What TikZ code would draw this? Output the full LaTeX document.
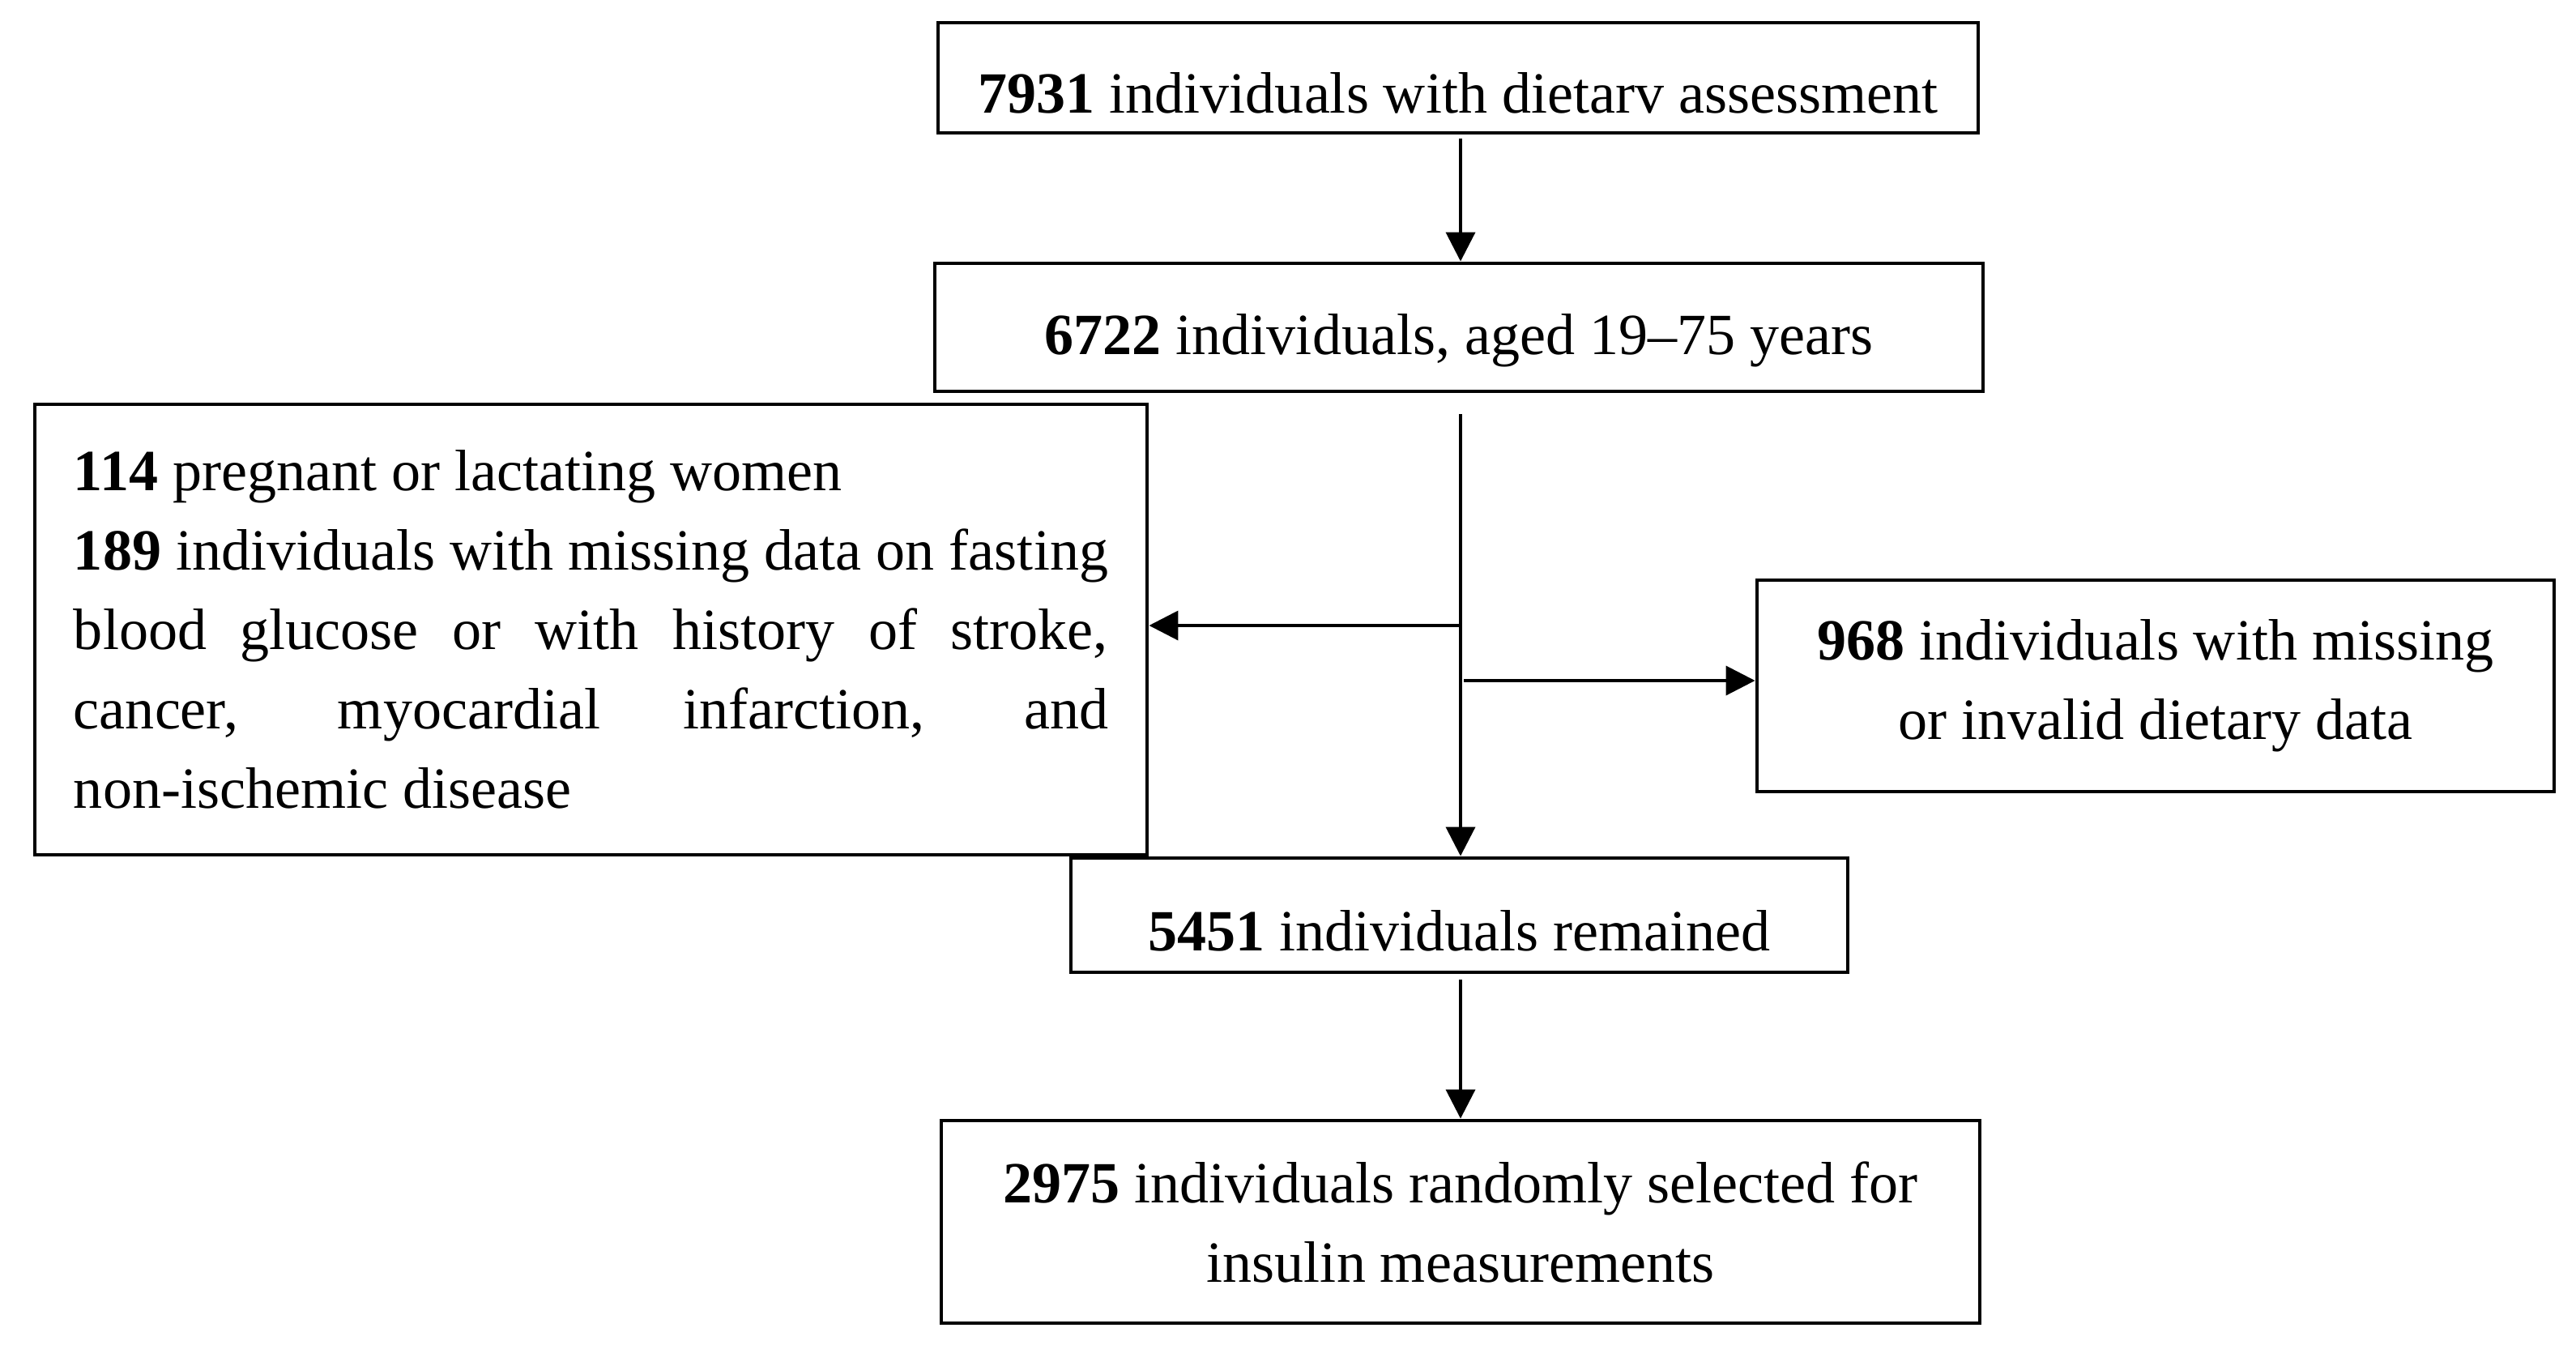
\documentclass[tikz,border=0pt]{standalone}
\usepackage{fontspec}
\setmainfont{Liberation Serif}
\usetikzlibrary{arrows.meta}
\begin{document}
\begin{tikzpicture}[
  font=\fontsize{20.5pt}{27.9pt}\selectfont,
  box/.style={draw=black, line width=1.4pt, rectangle, inner sep=0pt, align=center},
  arr/.style={draw=black, line width=1.1pt, -{Triangle[length=0.36cm,width=0.36cm]}}
]
\path[use as bounding box, fill=white] (0,0) rectangle (31.8,-16.59);

\node[box, minimum width=12.84cm, minimum height=1.36cm, text height=0.86cm, text depth=0pt] (b1) at (18.00,-0.96)
  {\textbf{7931} individuals with dietarv assessment};
\node[box, minimum width=12.94cm, minimum height=1.58cm, text height=0.66cm, text depth=0pt] (b2) at (18.01,-4.04)
  {\textbf{6722} individuals, aged 19–75 years};
\node[box, text width=12.77cm, inner xsep=0.48cm, minimum height=5.56cm, align=justify] (left) at (7.295,-7.77)
  {\textbf{114} pregnant or lactating women\\
   \textbf{189} individuals with missing data on fasting\linebreak
   blood glucose or with history of stroke,\linebreak
   cancer, myocardial infarction, and\linebreak
   non-ischemic disease};
\node[box, minimum width=9.84cm, minimum height=2.61cm] (right) at (26.61,-8.465)
  {\textbf{968} individuals with missing\\or invalid dietary data};
\node[box, minimum width=9.59cm, minimum height=1.41cm, text height=0.87cm, text depth=0pt] (b5) at (18.015,-11.295)
  {\textbf{5451} individuals remained};
\node[box, minimum width=12.82cm, minimum height=2.50cm] (b6) at (18.03,-15.08)
  {\textbf{2975} individuals randomly selected for\\insulin measurements};

\coordinate (a1) at (18.03,-1.71);
\coordinate (t1) at (18.03,-5.11);
\coordinate (jl) at (18.03,-7.72);
\coordinate (jr) at (18.07,-8.40);
\coordinate (a4) at (18.03,-12.09);

\draw[arr] (a1) -- (a1 |- b2.north);
\draw[arr] (t1) -- (t1 |- b5.north);
\draw[arr] (jl) -- (jl -| left.east);
\draw[arr] (jr) -- (jr -| right.west);
\draw[arr] (a4) -- (a4 |- b6.north);
\end{tikzpicture}
\end{document}
